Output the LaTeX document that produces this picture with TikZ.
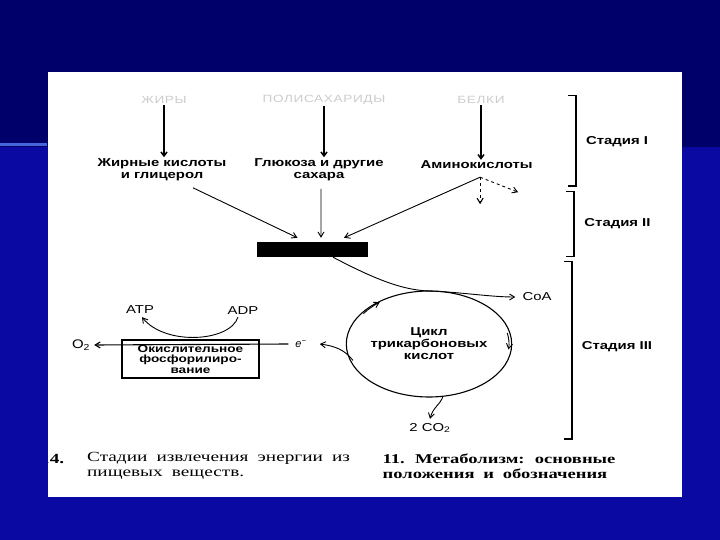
\documentclass[tikz,border=0pt]{standalone}
\usepackage{fontspec}
\setmainfont{Liberation Serif}
\setsansfont{Liberation Sans}
\newfontfamily\capfam{Liberation Serif}[FakeStretch=1.38, WordSpace=1.9]
\usetikzlibrary{arrows.meta, positioning, calc, shapes.geometric}

\definecolor{navyfond}{HTML}{00006A}
\definecolor{bluefond}{HTML}{0A0AA2}
\definecolor{bluestripe}{HTML}{4466DD}

\newcommand{\lblfont}{\sffamily\bfseries\fontsize{11.5}{12}\selectfont\addfontfeature{FakeStretch=1.3}}
\newcommand{\boxfont}{\sffamily\bfseries\fontsize{10.5}{10.5}\selectfont\addfontfeature{FakeStretch=1.3}}
\newcommand{\regfont}{\sffamily\fontsize{11.5}{12}\selectfont\addfontfeature{FakeStretch=1.3}}
\newcommand{\srcfont}{\sffamily\fontsize{10.5}{12}\selectfont\addfontfeature{FakeStretch=1.3,LetterSpace=6}}
\newcommand{\capfont}{\capfam\fontsize{14}{15}\selectfont}

\begin{document}
\begin{tikzpicture}[
        x=1bp, y=-1bp,
        src/.style={font=\srcfont, text=gray!40, inner sep=1bp},
        prod/.style={font=\lblfont, align=center, inner sep=1bp},
        regular/.style={font=\regfont, inner sep=1bp},
        stage/.style={font=\lblfont, inner sep=1bp},
        caption/.style={font=\capfont, align=left, anchor=west, inner sep=0pt},
        vert/.style={-{Straight Barb[length=4bp,width=6bp]}, line width=1.5bp},
        thin/.style={-{Straight Barb[length=5bp,width=6bp]}, line width=0.9bp},
        bracket/.style={line width=1.2bp}
    ]

        % Fond du diaporama
        \useasboundingbox (0,0) rectangle (720,540);
        \fill[navyfond] (0,0) rectangle (720,540);
        \fill[bluefond] (0,147) rectangle (720,540);
        \fill[bluestripe] (0,143.5) rectangle (47,146);
        \fill[white] (48,72) rectangle (682,497);

        % Stade I : grosses molécules
        \node[src] (fats) at (164,100) {ЖИРЫ};
        \node[src] (polysac) at (324,100) {ПОЛИСАХАРИДЫ};
        \node[src] (belki) at (481,100) {БЕЛКИ};

        \node[prod] (fatacids) at (162,169.5) {Жирные кислоты\\и глицерол};
        \node[prod] (glucose) at (319,169.5) {Глюкоза и другие\\сахара};
        \node[prod] (amino) at (476.6,165) {Аминокислоты};

        \draw[vert] (fats.south) -- (fats.south |- fatacids.north);
        \draw[vert] (polysac.south) -- (polysac.south |- glucose.north);
        \draw[vert] (belki.south) -- (belki.south |- amino.north);

        % Stade II
        \node[fill=black, minimum width=111bp, minimum height=15bp, inner sep=0pt]
            (acetyl) at (312.5,249.5) {};

        \coordinate (aminofork) at ($(amino.south)+(3.5,7)$);

        \draw[thin] ($(fatacids.south)+(31,6)$) -- ($(acetyl.north)+(-15,-4)$);
        \draw[thin] ($(glucose.south)+(2,7)$) -- ($(acetyl.north)+(8.5,-4)$);
        \draw[thin] (aminofork) -- ($(acetyl.north)+(31.5,-4)$);
        \draw[thin, dashed, line width=1.1bp] (aminofork) -- ++(0,27);
        \draw[thin, dashed] (aminofork) -- ++(38,15);

        % Stade III : cycle
        \node[ellipse, draw, line width=1.1bp, minimum width=160bp, minimum height=106bp,
            inner sep=0pt, font=\lblfont, align=center]
            (cycle) at (429,344) {Цикл\\трикарбоновых\\кислот};

        \draw[thin] ([shift={(215:80 and 53)}]cycle.center)
            arc[start angle=215, end angle=232, x radius=80, y radius=53];
        \draw[thin] ([shift={(-12:80 and 53)}]cycle.center)
            arc[start angle=-12, end angle=6, x radius=80, y radius=53];

        \node[regular] (coa) at (537,297) {CoA};
        \node[regular] (cotwo) at (430,428) {2 CO\textsubscript{2}};

        \draw[thin] ($(acetyl.south)+(20.5,0)$)
            .. controls (380,282) and (405,290) .. ($(cycle.center)+(270:80 and 53)$)
            .. controls (460,292) and (490,297) .. ([xshift=-6bp]coa.west);

        \draw[thin] ($(cycle.center)+(80:80 and 53)$)
            .. controls (441,404) and (433,407) .. ([yshift=3bp]cotwo.north);

        % Phosphorylation oxydative
        \node[draw, line width=1.1bp, minimum width=137bp, minimum height=38bp,
            inner sep=0pt, font=\boxfont, align=center]
            (oxphos) at (190.5,359) {Окислительное\\фосфорилиро-\\вание};

        \node[regular, font=\sffamily\fontsize{11}{12}\selectfont\itshape] (emin) at (301,344) {e\textsuperscript{−}};
        \node[regular, font=\sffamily\fontsize{12.5}{13}\selectfont\addfontfeature{FakeStretch=1.2}]
            (otwo) at (81,345) {O\textsubscript{2}};
        \node[regular] (atp) at (140,310) {ATP};
        \node[regular] (adp) at (243,311) {ADP};

        \draw[thin] ($(cycle.center)+(162:80 and 53)$)
            .. controls (345,350) and (335,346) .. ([xshift=12bp]emin.east);
        \draw[thin, line width=1.1bp] ([xshift=-6bp]emin.west) -- ([xshift=3bp]otwo.east);
        \draw[thin] ($(adp.south)+(-5,1)$)
            .. controls (230,342) and (165,346) .. ($(atp.south)+(2,2)$);

        % Accolades des stades
        \draw[bracket] (568,95.7) -- (576,95.7) -- (576,186) -- (568,186);
        \draw[bracket] (566,191.8) -- (574,191.8) -- (574,256.5) -- (566,256.5);
        \draw[bracket] (564,261.7) -- (572,261.7) -- (572,439) -- (564,439);

        \node[stage] (stageone) at (617,142) {Стадия I};
        \node[stage] (stagetwo) at (617.5,224) {Стадия II};
        \node[stage] (stagethree) at (617,347) {Стадия III};

        % Légende
        \begin{scope}
            \clip (48,72) rectangle (682,497);
            \node[caption, anchor=east, font=\capfont\bfseries] (capnum) at (64.5,458.7) {14.};
        \end{scope}
        \node[caption] (capleft) at (87,466) {Стадии извлечения энергии из\\пищевых веществ.};
        \node[caption, font=\capfont\bfseries\fontsize{13.5}{15}\selectfont] (capright) at (382.5,466)
            {11. Метаболизм: основные\\положения и обозначения};

    \end{tikzpicture}
\end{document}
